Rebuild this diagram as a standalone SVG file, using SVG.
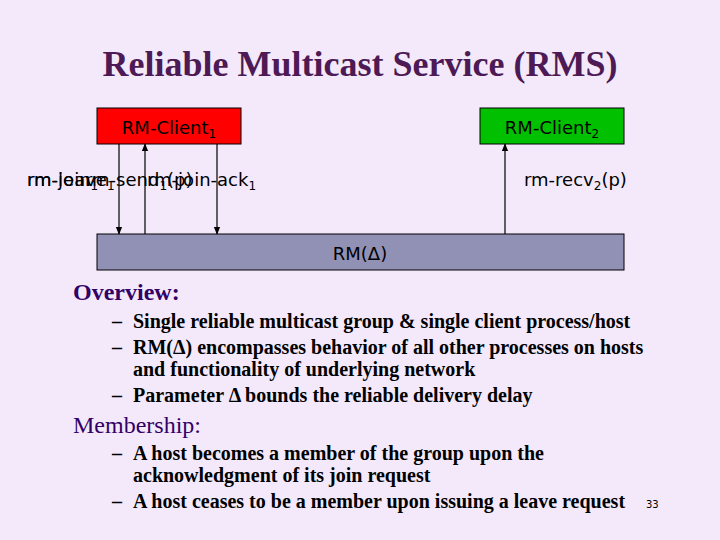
<svg xmlns="http://www.w3.org/2000/svg" width="720" height="540" viewBox="0 0 720 540">
<defs>
<marker id="ah" viewBox="0 0 10 10" refX="9" refY="5" markerWidth="8" markerHeight="8" markerUnits="userSpaceOnUse" orient="auto"><path d="M0,1 L10,5 L0,9 z" fill="#000"/></marker>
<style>
.lab{font-family:"DejaVu Sans",Verdana,sans-serif;font-size:18px;fill:#000}
.sub{font-size:12px}
.head{font-family:"Liberation Serif",serif;font-size:24px;fill:#330066}
.b{font-family:"Liberation Serif",serif;font-size:20px;font-weight:bold;fill:#000}
.c{stroke:#000;stroke-width:1.2;fill:none;marker-end:url(#ah)}
</style>
</defs>
<rect width="720" height="540" fill="#f3e9fb"/>
<text x="360" y="76" text-anchor="middle" font-family="Liberation Serif,serif" font-size="36" font-weight="bold" fill="#4d1a55">Reliable Multicast Service (RMS)</text>
<g id="client1"><rect x="97" y="108" width="144" height="36" fill="#ff0000" stroke="#000"/><text class="lab" x="169" y="134" text-anchor="middle">RM-Client<tspan class="sub" dy="4">1</tspan></text></g>
<g id="client2"><rect x="480" y="108" width="144" height="36" fill="#00c000" stroke="#000"/><text class="lab" x="552" y="134" text-anchor="middle">RM-Client<tspan class="sub" dy="4">2</tspan></text></g>
<g id="rm"><rect x="97" y="234" width="527" height="36" fill="#9191b6" stroke="#000"/><text class="lab" x="360" y="260" text-anchor="middle">RM(Δ)</text></g>
<g id="connectors">
<line class="c" x1="119" y1="144" x2="119" y2="234" stroke-width="2"/>
<line class="c" x1="145" y1="234" x2="145" y2="144"/>
<line class="c" x1="217" y1="144" x2="217" y2="234"/>
<line class="c" x1="505" y1="234" x2="505" y2="144"/>
<text class="lab" x="27" y="186">rm-leave<tspan class="sub" dy="4">1</tspan></text>
<text class="lab" x="27" y="186">rm-join<tspan class="sub" dy="4">1</tspan></text>
<text class="lab" x="85" y="186">rm-send<tspan class="sub" dy="4">1</tspan><tspan dy="-4">(p)</tspan></text>
<text class="lab" x="147" y="186">rm-join-ack<tspan class="sub" dy="4">1</tspan></text>
<text class="lab" x="524" y="186">rm-recv<tspan class="sub" dy="4">2</tspan><tspan dy="-4">(p)</tspan></text>
</g>
<text class="head" x="73" y="300" font-weight="bold">Overview:</text>
<text class="head" x="73" y="433">Membership:</text>
<g class="b">
<text x="112" y="328">–</text><text x="133" y="328">Single reliable multicast group &amp; single client process/host</text>
<text x="112" y="354">–</text><text x="133" y="354">RM(Δ) encompasses behavior of all other processes on hosts</text>
<text x="133" y="376">and functionality of underlying network</text>
<text x="112" y="402">–</text><text x="133" y="402">Parameter Δ bounds the reliable delivery delay</text>
<text x="112" y="460">–</text><text x="133" y="460">A host becomes a member of the group upon the</text>
<text x="133" y="482">acknowledgment of its join request</text>
<text x="112" y="508">–</text><text x="133" y="508">A host ceases to be a member upon issuing a leave request</text>
</g>
<text x="646" y="508" font-family="DejaVu Sans,sans-serif" font-size="10" fill="#000">33</text>
</svg>
